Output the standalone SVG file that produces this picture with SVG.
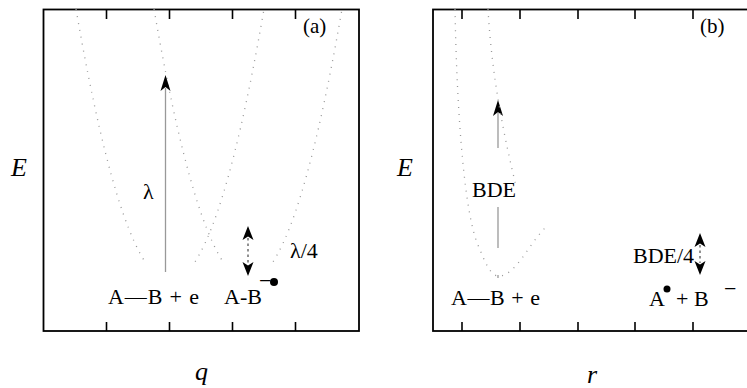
<svg xmlns="http://www.w3.org/2000/svg" width="747" height="388" viewBox="0 0 747 388">
<style>
.frame{fill:none;stroke:#000;stroke-width:1.8}
.tick{stroke:#000;stroke-width:1.6}
.curve{fill:none;stroke:#999;stroke-width:1.3;stroke-dasharray:1 6}
.shaft{stroke:#999;stroke-width:1.3}
.dash{stroke:#222;stroke-width:1;stroke-dasharray:2.5 3}
.lbl{font-family:"Liberation Serif","Times New Roman",serif;font-size:22px;fill:#000}
.axis{font-family:"Liberation Serif","Times New Roman",serif;font-style:italic;font-size:26px;fill:#000}
.tag{font-family:"Liberation Serif","Times New Roman",serif;font-size:21px;fill:#000}
</style>
<defs>
<path id="head" d="M0,0 L5,16 L0,12 L-5,16 Z" fill="#000"/>
<path id="headS" d="M0,0 L5.5,14 L0,10.5 L-5.5,14 Z" fill="#000"/>
<clipPath id="clipA"><rect x="43" y="9" width="316" height="254"/></clipPath>
</defs>

<g id="panel-a">
  <rect class="frame" x="43.5" y="9.5" width="315.5" height="321.5"/>
  <g id="ticks-a">
    <line class="tick" x1="106.5" y1="9.5" x2="106.5" y2="19"/>
    <line class="tick" x1="169.5" y1="9.5" x2="169.5" y2="19"/>
    <line class="tick" x1="232.5" y1="9.5" x2="232.5" y2="19"/>
    <line class="tick" x1="295.5" y1="9.5" x2="295.5" y2="19"/>
    <line class="tick" x1="106.5" y1="331" x2="106.5" y2="322"/>
    <line class="tick" x1="169.5" y1="331" x2="169.5" y2="322"/>
    <line class="tick" x1="232.5" y1="331" x2="232.5" y2="322"/>
    <line class="tick" x1="295.5" y1="331" x2="295.5" y2="322"/>
  </g>
  <g id="curves-a" clip-path="url(#clipA)">
    <path class="curve" d="M76,9 Q170,553 264,9"/>
    <path class="curve" d="M154,9 Q248,553 342,9"/>
  </g>
  <text class="tag" x="303" y="33">(a)</text>
  <text class="axis" x="11" y="176">E</text>
  <text class="axis" x="195" y="380">q</text>
</g>

<g id="connectors">
  <line class="shaft" x1="165.5" y1="272" x2="165.5" y2="88"/>
  <use href="#head" x="165.5" y="75"/>
  <line class="dash" x1="248" y1="238" x2="248" y2="264"/>
  <use href="#headS" x="248" y="226"/>
  <use href="#headS" transform="translate(248,276) rotate(180)"/>
  <line class="shaft" x1="498" y1="112" x2="498" y2="148"/>
  <line class="shaft" x1="498" y1="207" x2="498" y2="248"/>
  <line class="shaft" x1="498" y1="275" x2="498" y2="278"/>
  <use href="#head" x="498" y="100"/>
  <line class="dash" x1="700" y1="245" x2="700" y2="263"/>
  <use href="#headS" x="700" y="233"/>
  <use href="#headS" transform="translate(700,275) rotate(180)"/>
</g>

<g id="labels-a">
  <text class="lbl" x="143" y="199">λ</text>
  <text class="lbl" x="290" y="258">λ/4</text>
  <text class="lbl" x="108" y="304" textLength="91">A—B + e</text>
  <text class="lbl" x="224" y="304">A-B</text>
  <text class="lbl" x="259" y="288">−</text>
  <circle cx="274" cy="282" r="4" fill="#000"/>
</g>

<g id="panel-b">
  <rect class="frame" x="433" y="9.5" width="316" height="321.5"/>
  <g id="ticks-b">
    <line class="tick" x1="462" y1="9.5" x2="462" y2="19"/>
    <line class="tick" x1="520" y1="9.5" x2="520" y2="19"/>
    <line class="tick" x1="578" y1="9.5" x2="578" y2="19"/>
    <line class="tick" x1="635" y1="9.5" x2="635" y2="19"/>
    <line class="tick" x1="693" y1="9.5" x2="693" y2="19"/>
    <line class="tick" x1="462" y1="331" x2="462" y2="322"/>
    <line class="tick" x1="520" y1="331" x2="520" y2="322"/>
    <line class="tick" x1="578" y1="331" x2="578" y2="322"/>
    <line class="tick" x1="635" y1="331" x2="635" y2="322"/>
    <line class="tick" x1="693" y1="331" x2="693" y2="322"/>
  </g>
  <g id="curves-b">
    <path class="curve" d="M455,9 C457,120 465,215 478,245 C485,262 490,275 498,276 C515,277 528,245 545,228"/>
    <path class="curve" d="M488,9 C492,80 505,140 516,186"/>
  </g>
  <text class="tag" x="700" y="33">(b)</text>
  <text class="axis" x="397" y="176">E</text>
  <text class="axis" x="587" y="383">r</text>
</g>

<g id="labels-b">
  <text class="lbl" x="472" y="197">BDE</text>
  <text class="lbl" x="633" y="263">BDE/4</text>
  <text class="lbl" x="451" y="305" textLength="89">A—B + e</text>
  <text class="lbl" x="649" y="306">A</text>
  <circle cx="667" cy="289" r="3.5" fill="#000"/>
  <text class="lbl" x="676" y="306">+ B</text>
  <text class="lbl" x="724" y="296">−</text>
</g>
</svg>
